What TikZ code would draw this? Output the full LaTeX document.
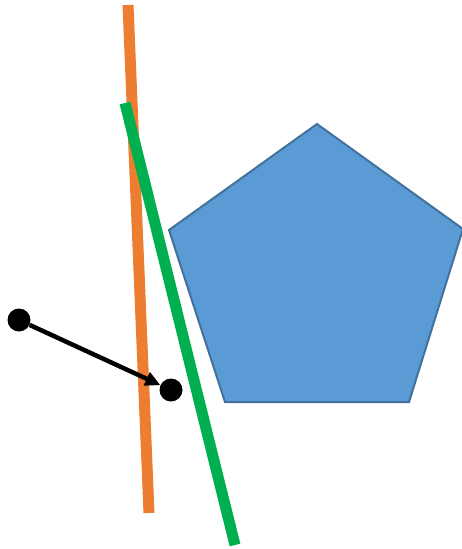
\documentclass[tikz,border=0pt]{standalone}
\usetikzlibrary{arrows.meta}
\definecolor{shapeblue}{HTML}{5B9BD5}
\definecolor{shapeedge}{HTML}{41719C}
\definecolor{lineorange}{HTML}{ED7D31}
\definecolor{linegreen}{HTML}{00B050}
\tikzset{
  dot/.style={
    circle,
    fill=black,
    inner sep=0pt,
    minimum size=23pt
  },
  polygon/.style={
    draw=shapeedge,
    line width=2pt,
    fill=shapeblue
  },
  barrier/.style={line width=11pt,draw=#1},
  move/.style={-{Triangle[length=15pt,width=14pt]},line width=4.5pt,draw=black}
}

\begin{document}
\begin{tikzpicture}[x=1pt,y=-1pt]
  \useasboundingbox (0,0) rectangle (461,549);

  \draw[polygon] (317,124) -- (463,229) -- (409,402) -- (225,402) -- (169,230) -- cycle;

  \draw[barrier=lineorange] (128,5) -- (149,513);
  \draw[barrier=linegreen] (125,103) -- (235,545);

  \node[dot] (start) at (19,320) {};
  \node[dot] (goal) at (171,390) {};

  \draw[move] (start) -- (goal);
\end{tikzpicture}
\end{document}
